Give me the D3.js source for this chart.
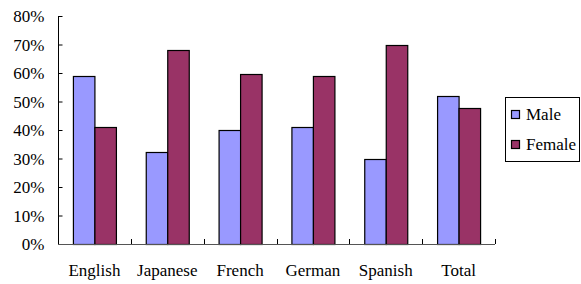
<!DOCTYPE html>
<html><head><meta charset="utf-8">
<script src="https://cdn.jsdelivr.net/npm/d3@7"></script>
<style>body{margin:0;background:#fff}svg{display:block}text{font-family:"Liberation Serif","Times New Roman",serif;font-size:17px;fill:#000}</style>
</head><body>
<script>
const categories = ["English","Japanese","French","German","Spanish","Total"];
const seriesNames = ["Male","Female"];
const male = [59, 32.3, 40, 41.2, 29.8, 51.9];
const female = [41.2, 68.1, 59.8, 59, 70, 47.8];
const yTicks = [0,10,20,30,40,50,60,70,80];
const colors = ["#9999FF","#993366"];

const W=581,H=284;
const svg=d3.select("body").append("svg").attr("width",W).attr("height",H);
const x0=d3.scaleBand().domain(categories).range([58,495]);
const y=d3.scaleLinear().domain([0,80]).range([244,16]);
const x1=d3.scaleBand().domain(seriesNames).range([0,43]);
const data=categories.map((c,i)=>({c,vals:[male[i],female[i]]}));

const groups=svg.selectAll("g.grp").data(data).join("g")
  .attr("transform",d=>`translate(${x0(d.c)+(x0.bandwidth()-43)/2},0)`);
groups.selectAll("rect").data(d=>d.vals.map((v,j)=>({v,s:seriesNames[j],j}))).join("rect")
  .attr("x",d=>x1(d.s)+0.5).attr("width",x1.bandwidth())
  .attr("y",d=>Math.round(y(d.v))+0.5).attr("height",d=>244-Math.round(y(d.v)))
  .attr("fill",d=>colors[d.j]).attr("stroke","#000").attr("stroke-width",1.2);

// y axis
const ya=svg.append("g").attr("transform","translate(58.5,0)")
  .call(d3.axisRight(y).tickValues(yTicks).tickSize(4).tickFormat(d=>d+"%"));
ya.select(".domain").attr("stroke","#000").attr("d","M0,16V244");
ya.selectAll(".tick line").attr("stroke","#000");
ya.selectAll(".tick text").attr("x",-14).attr("text-anchor","end").attr("dy","0.35em")
  .style("font-family",'"Liberation Serif",serif').style("font-size","17px");

// x axis
const xa=svg.append("g").attr("transform","translate(0,244.5)")
  .call(d3.axisBottom(x0).tickSize(0).tickFormat(d=>d));
xa.select(".domain").attr("stroke","#555").attr("d","M58,0H495");
xa.selectAll(".tick text").attr("y",31).attr("dy",0)
  .style("font-family",'"Liberation Serif",serif').style("font-size","17px");
const bounds=categories.map(c=>x0(c)+x0.bandwidth());
svg.append("g").selectAll("line").data(bounds).join("line")
  .attr("x1",d=>Math.round(d)+0.5).attr("x2",d=>Math.round(d)+0.5)
  .attr("y1",244).attr("y2",239).attr("stroke","#000");

// legend
const lg=svg.append("g");
lg.append("rect").attr("x",505.5).attr("y",97.5).attr("width",74).attr("height",64)
  .attr("fill","#fff").attr("stroke","#000");
seriesNames.forEach((s,i)=>{
  const yy=110+i*30;
  lg.append("rect").attr("x",511.5).attr("y",yy+0.5).attr("width",8).attr("height",8)
    .attr("fill",colors[i]).attr("stroke","#000").attr("stroke-width",1.2);
  lg.append("text").attr("x",526).attr("y",yy+9.5).text(s);
});
</script>
</body></html>
